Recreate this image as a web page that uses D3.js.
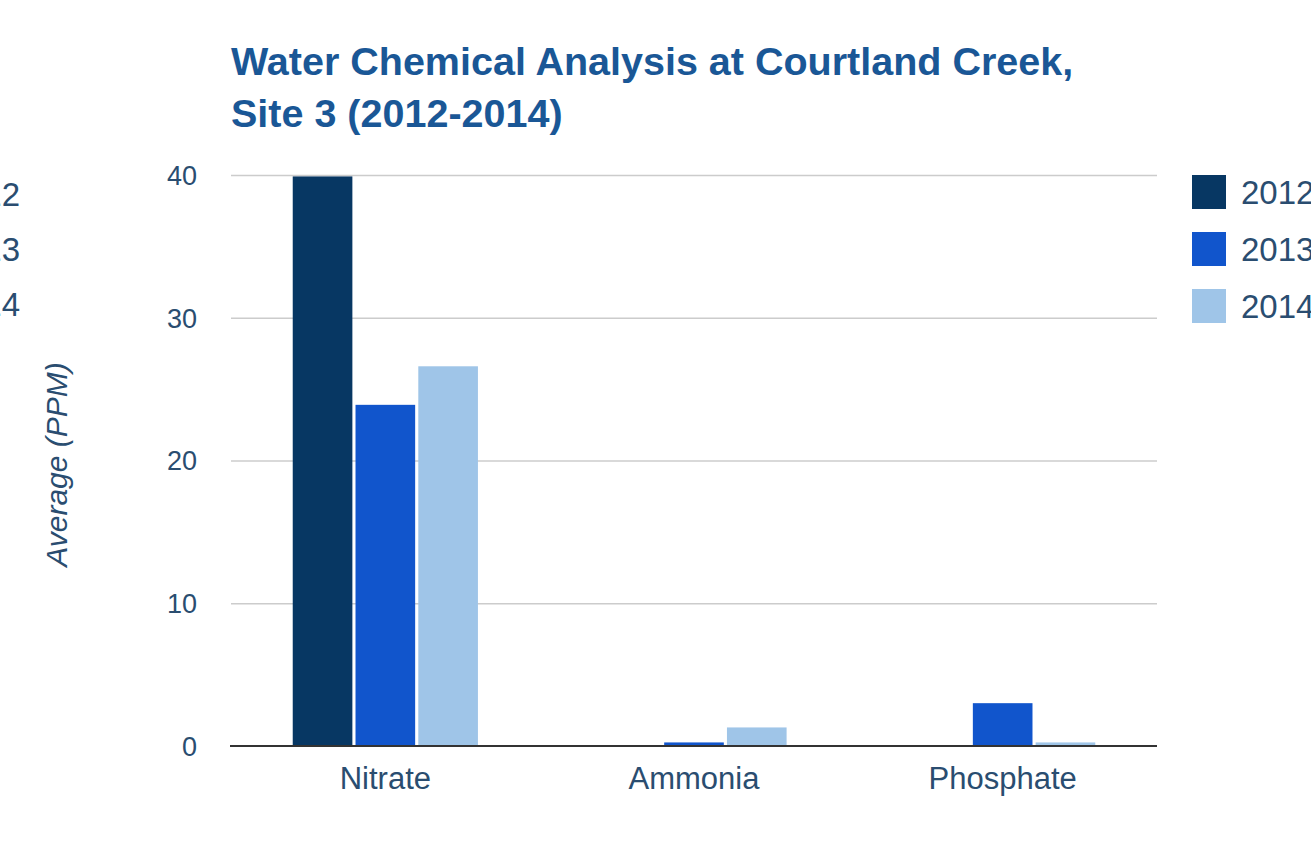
<!DOCTYPE html>
<html><head><meta charset="utf-8">
<script src="https://cdn.jsdelivr.net/npm/d3@7"></script>
<style>html,body{margin:0;padding:0;background:#fff;overflow:hidden}</style>
</head><body>
<svg id="chart" width="1311" height="844"></svg>
<script>
const categories = ["Nitrate", "Ammonia", "Phosphate"];
const years = ["2012", "2013", "2014"];
const values2012 = [39.9, 0, 0];
const values2013 = [23.9, 0.25, 3.0];
const values2014 = [26.6, 1.3, 0.25];
const yTicks = [0, 10, 20, 30, 40];
const titleLines = ["Water Chemical Analysis at Courtland Creek,", "Site 3 (2012-2014)"];
const yAxisTitle = "Average (PPM)";

const colors = ["#073763", "#1155cc", "#9fc5e8"];
const series = [values2012, values2013, values2014];
const font = "Arial, 'Liberation Sans', sans-serif";
const textColor = "#2a4d70";

const svg = d3.select("#chart");
const pLeft = 231, pRight = 1157, pTop = 175, pBottom = 746;

const x0 = d3.scaleBand().domain(categories).range([pLeft, pRight]).paddingInner(0.4).paddingOuter(0.2);
const x1 = d3.scaleBand().domain(years).range([0, x0.bandwidth()]).paddingInner(0.05);
const y = d3.scaleLinear().domain([0, 40]).range([pBottom, pTop]);

// gridlines
const grid = d3.axisLeft(y).tickValues(yTicks.filter(d => d > 0)).tickSize(-(pRight - pLeft)).tickFormat("");
svg.append("g").attr("transform", `translate(${pLeft},0)`).call(grid)
  .call(g => g.select(".domain").remove())
  .call(g => g.selectAll("line").attr("stroke", "#cccccc").attr("stroke-width", 1.5));

// y tick labels
const yAx = d3.axisLeft(y).tickValues(yTicks).tickSize(0).tickPadding(34);
svg.append("g").attr("transform", `translate(${pLeft},0)`).call(yAx)
  .call(g => g.select(".domain").remove())
  .call(g => g.selectAll("text").attr("font-family", font).attr("font-size", 27).attr("fill", textColor).attr("dy", "0.35em"));

// bars
const groups = svg.append("g").selectAll("g").data(categories).join("g")
  .attr("transform", d => `translate(${x0(d)},0)`);
groups.selectAll("rect")
  .data((c, i) => years.map((yr, j) => ({ yr, v: series[j][i], color: colors[j] })).filter(d => d.v > 0))
  .join("rect")
  .attr("x", d => x1(d.yr))
  .attr("width", x1.bandwidth())
  .attr("y", d => y(d.v))
  .attr("height", d => y(0) - y(d.v))
  .attr("fill", d => d.color);

// baseline
svg.append("line").attr("x1", pLeft - 1).attr("x2", pRight).attr("y1", y(0)).attr("y2", y(0))
  .attr("stroke", "#333").attr("stroke-width", 2);

// x axis labels
const xAx = d3.axisBottom(x0).tickSize(0).tickPadding(21);
svg.append("g").attr("transform", `translate(0,${pBottom})`).call(xAx)
  .call(g => g.select(".domain").remove())
  .call(g => g.selectAll("text").attr("font-family", font).attr("font-size", 31).attr("fill", textColor));

// title
svg.append("g").selectAll("text").data(titleLines).join("text")
  .attr("x", 231).attr("y", (d, i) => 75 + i * 52)
  .attr("font-family", font).attr("font-weight", "bold").attr("font-size", 39.5)
  .attr("fill", "#1a5796").text(d => d);

// y axis title
svg.append("text")
  .attr("transform", `translate(67,${(pTop + pBottom) / 2 + 4}) rotate(-90)`)
  .attr("text-anchor", "middle")
  .attr("font-family", font).attr("font-style", "italic").attr("font-size", 30)
  .attr("fill", textColor).text(yAxisTitle);

// legend (right)
const leg = svg.append("g").selectAll("g").data(years).join("g")
  .attr("transform", (d, i) => `translate(1192,${175 + i * 57})`);
leg.append("rect").attr("width", 34).attr("height", 34).attr("fill", (d, i) => colors[i]);
leg.append("text").attr("x", 49).attr("y", 29).attr("font-family", font).attr("font-size", 33)
  .attr("fill", textColor).text(d => d);

// clipped duplicate legend text at far left
svg.append("g").selectAll("text").data(years).join("text")
  .attr("x", 20).attr("y", (d, i) => 206 + i * 55)
  .attr("text-anchor", "end")
  .attr("font-family", font).attr("font-size", 33)
  .attr("fill", textColor).text(d => d);
</script>
</body></html>
